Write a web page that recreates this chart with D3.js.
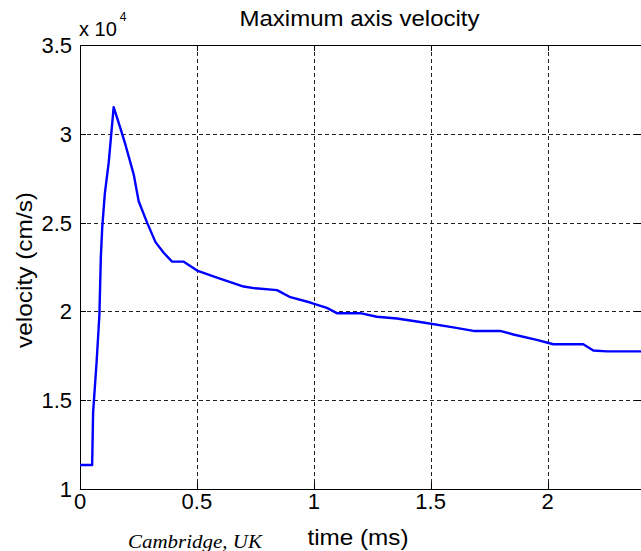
<!DOCTYPE html>
<html>
<head>
<meta charset="utf-8">
<script src="https://cdn.jsdelivr.net/npm/d3@7"></script>
<style>
  body { margin: 0; background: #fff; }
  svg { display: block; font-family: "Liberation Sans", Arial, sans-serif; }
</style>
</head>
<body>
<div id="main"></div>
<script>
// time in ms, velocity in cm/s
var times = [0, 0.052, 0.056, 0.071, 0.083, 0.089, 0.095, 0.106, 0.123, 0.144,
  0.173, 0.194, 0.230, 0.251, 0.287, 0.323, 0.358, 0.394, 0.444, 0.501,
  0.586, 0.700, 0.750, 0.843, 0.900, 0.985, 1.056, 1.099, 1.199, 1.270,
  1.356, 1.455, 1.597, 1.683, 1.797, 1.854, 1.954, 2.025, 2.153, 2.196,
  2.253, 2.40];
var velocities = [11350, 11350, 14300, 17150, 19800, 23000, 24700, 26600, 28400, 31500,
  30300, 29400, 27700, 26200, 25000, 23900, 23300, 22800, 22800, 22300,
  21900, 21400, 21300, 21200, 20800, 20500, 20200, 19900, 19900, 19700,
  19600, 19400, 19100, 18900, 18900, 18700, 18400, 18150, 18150, 17800,
  17750, 17750];
var xTicks = [0, 0.5, 1, 1.5, 2];
var yTicks = [10000, 15000, 20000, 25000, 30000, 35000];

var width = 641, height = 551;
var plotL = 80, plotT = 45, plotB = 489, plotR = 641;

var svg = d3.select("#main").append("svg")
  .attr("width", width)
  .attr("height", height);

var x = d3.scaleLinear().domain([0, 2.4]).range([plotL, plotR]);
var y = d3.scaleLinear().domain([10000, 35000]).range([plotB, plotT]);

// grid
var grid = svg.append("g").attr("shape-rendering", "crispEdges");
grid.selectAll(".vg")
  .data(xTicks.slice(1))
  .enter().append("line")
  .attr("x1", function(d) { return Math.round(x(d)) + 0.5; })
  .attr("x2", function(d) { return Math.round(x(d)) + 0.5; })
  .attr("y1", plotT).attr("y2", plotB)
  .attr("stroke", "#222").attr("stroke-dasharray", "4,3");
grid.selectAll(".hg")
  .data(yTicks.slice(1, -1))
  .enter().append("line")
  .attr("y1", function(d) { return Math.round(y(d)) + 0.5; })
  .attr("y2", function(d) { return Math.round(y(d)) + 0.5; })
  .attr("x1", plotL).attr("x2", plotR)
  .attr("stroke", "#222").attr("stroke-dasharray", "4,3");

// box + inward ticks
var box = svg.append("g").attr("shape-rendering", "crispEdges").attr("stroke", "#000");
box.append("line").attr("x1", plotL + 0.5).attr("x2", plotL + 0.5).attr("y1", plotT).attr("y2", plotB + 1);
box.append("line").attr("x1", plotL).attr("x2", plotR).attr("y1", plotB + 0.5).attr("y2", plotB + 0.5);
box.append("line").attr("x1", plotL).attr("x2", plotR).attr("y1", plotT + 0.5).attr("y2", plotT + 0.5);

xTicks.forEach(function(d) {
  var px = Math.round(x(d)) + 0.5;
  box.append("line").attr("x1", px).attr("x2", px).attr("y1", plotB).attr("y2", plotB - 6);
  box.append("line").attr("x1", px).attr("x2", px).attr("y1", plotT).attr("y2", plotT + 6);
});
yTicks.forEach(function(d) {
  var py = Math.round(y(d)) + 0.5;
  box.append("line").attr("y1", py).attr("y2", py).attr("x1", plotL).attr("x2", plotL + 6);
  box.append("line").attr("y1", py).attr("y2", py).attr("x1", plotR).attr("x2", plotR - 6);
});

// tick labels
svg.selectAll(".xl")
  .data(xTicks)
  .enter().append("text")
  .attr("x", function(d) { return x(d); })
  .attr("y", 509)
  .attr("text-anchor", "middle")
  .attr("font-size", 22)
  .text(function(d) { return d; });

svg.selectAll(".yl")
  .data(yTicks)
  .enter().append("text")
  .attr("x", 72)
  .attr("y", function(d) { return y(d) + 8; })
  .attr("text-anchor", "end")
  .attr("font-size", 22)
  .text(function(d) { return d / 10000; });

// exponent label
var ex = svg.append("text").attr("x", 79).attr("y", 36).attr("font-size", 20);
ex.append("tspan").text("x 10");
ex.append("tspan").attr("dy", -15).attr("dx", 3).attr("font-size", 12).text("4");

// line
var line = d3.line()
  .x(function(d) { return x(d[0]); })
  .y(function(d) { return y(d[1]); });

svg.append("path")
  .datum(d3.zip(times, velocities))
  .attr("d", line)
  .attr("fill", "none")
  .attr("stroke", "#0000ff")
  .attr("stroke-width", 2.4)
  .attr("stroke-linejoin", "round");

// titles
svg.append("text")
  .attr("x", (plotL + plotR) / 2 - 1)
  .attr("y", 26)
  .attr("text-anchor", "middle")
  .attr("font-size", 22)
  .attr("textLength", 240)
  .attr("lengthAdjust", "spacingAndGlyphs")
  .text("Maximum axis velocity");

svg.append("text")
  .attr("x", 358)
  .attr("y", 545)
  .attr("text-anchor", "middle")
  .attr("font-size", 22)
  .attr("textLength", 101)
  .attr("lengthAdjust", "spacingAndGlyphs")
  .text("time (ms)");

svg.append("text")
  .attr("transform", "translate(32,270) rotate(-90)")
  .attr("text-anchor", "middle")
  .attr("font-size", 22)
  .attr("textLength", 156)
  .attr("lengthAdjust", "spacingAndGlyphs")
  .text("velocity (cm/s)");

svg.append("text")
  .attr("x", 128)
  .attr("y", 548)
  .attr("font-family", "'Liberation Serif', 'Times New Roman', serif")
  .attr("font-style", "italic")
  .attr("font-size", 19)
  .attr("textLength", 134)
  .attr("lengthAdjust", "spacingAndGlyphs")
  .text("Cambridge, UK");
</script>
</body>
</html>
